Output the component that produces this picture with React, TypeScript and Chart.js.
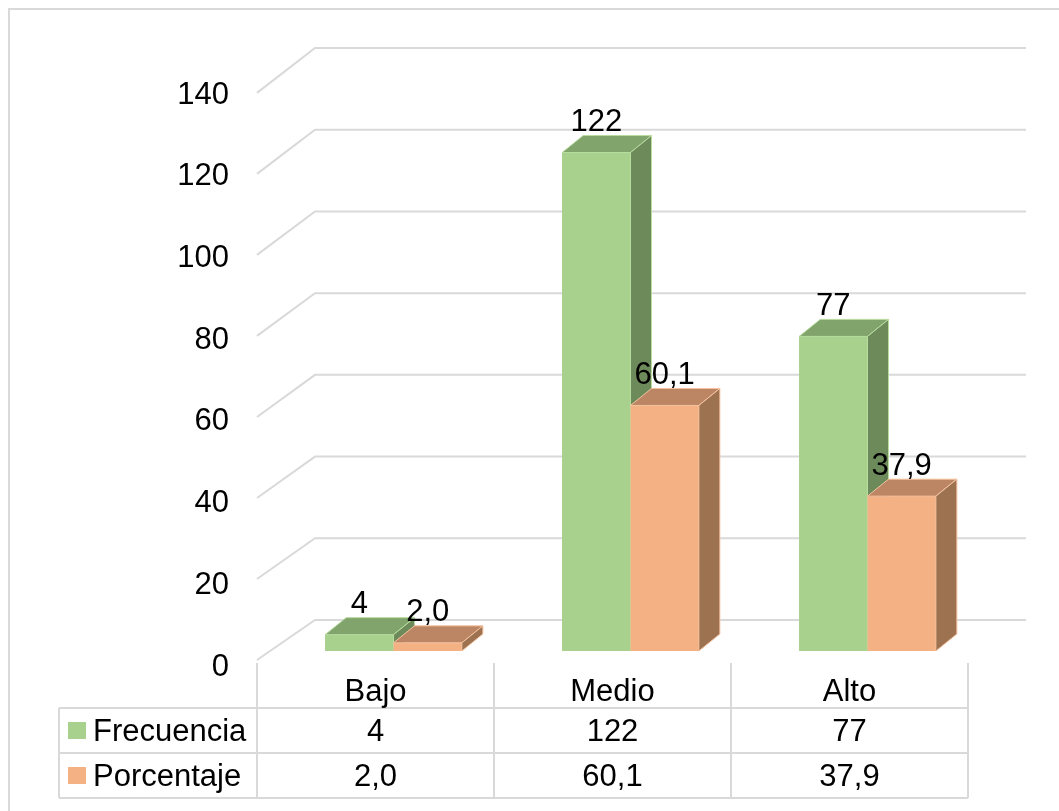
import React, { useEffect, useRef } from "react";
import { Chart, registerables } from "chart.js";

Chart.register(...registerables);

// Data
const categories = ["Bajo", "Medio", "Alto"];
const frecuencia = [4, 122, 77];
const porcentaje = [2.0, 60.1, 37.9];
const seriesNames = ["Frecuencia", "Porcentaje"];
const yMax = 140;
const yStep = 20;

// Styling
const FONT = '"Liberation Sans", Arial, sans-serif';
const FONT_SIZE = 31;
const GRID = "#D9D9D9";
const FACE = {
  green: { front: "#A9D18E", top: "#81A36C", side: "#6D8A5A", edge: "#B9DCA0" },
  orange: { front: "#F4B183", top: "#BC8563", side: "#9C7251", edge: "#F7C3A0" },
};
const palettes = [FACE.green, FACE.orange];

// 3D geometry offsets relative to the bar front plane
const BACK_DX = 40;
const BACK_DY = -31;
const FRONT_DX = -18;
const FRONT_DY = 9;
const FRONT_SCALE = 0.9915;
const BAR_DX = 21;
const BAR_DY = -17;

const fmtFrec = (v: number) => String(v);
const fmtPct = (v: number) => v.toFixed(1).replace(".", ",");
const formatters = [fmtFrec, fmtPct];
const seriesData = [frecuencia, porcentaje];

const threeD = {
  id: "threeD",
  beforeDatasetsDraw(chart: any) {
    const { ctx } = chart;
    const ys = chart.scales.y;
    const area = chart.chartArea;
    const y0 = ys.getPixelForValue(0);
    ctx.save();
    // outer frame
    ctx.strokeStyle = GRID;
    ctx.lineWidth = 2;
    ctx.beginPath();
    ctx.moveTo(9, chart.height + 5);
    ctx.lineTo(9, 9);
    ctx.lineTo(chart.width + 5, 9);
    ctx.stroke();
    // wall gridlines with a diagonal to the front edge
    for (let v = 0; v <= yMax; v += yStep) {
      const yb = ys.getPixelForValue(v);
      const backY = yb + BACK_DY;
      const frontY = y0 + FRONT_DY - (y0 - yb) * FRONT_SCALE;
      ctx.beginPath();
      ctx.moveTo(area.left + FRONT_DX, frontY);
      ctx.lineTo(area.left + BACK_DX, backY);
      ctx.lineTo(area.right + BACK_DX, backY);
      ctx.stroke();
    }
    ctx.restore();
  },
  afterDatasetsDraw(chart: any) {
    const { ctx } = chart;
    ctx.save();
    chart.data.datasets.forEach((ds: any, di: number) => {
      const pal = palettes[di];
      const meta = chart.getDatasetMeta(di);
      meta.data.forEach((el: any) => {
        const { x, y, base, width } = el.getProps(["x", "y", "base", "width"], true);
        const l = x - width / 2;
        const r = x + width / 2;
        // front
        ctx.fillStyle = pal.front;
        ctx.fillRect(l, y, r - l, base - y);
        // top
        ctx.beginPath();
        ctx.moveTo(l, y);
        ctx.lineTo(r, y);
        ctx.lineTo(r + BAR_DX, y + BAR_DY);
        ctx.lineTo(l + BAR_DX, y + BAR_DY);
        ctx.closePath();
        ctx.fillStyle = pal.top;
        ctx.fill();
        ctx.strokeStyle = pal.edge;
        ctx.lineWidth = 1;
        ctx.stroke();
        // side
        ctx.beginPath();
        ctx.moveTo(r, y);
        ctx.lineTo(r + BAR_DX, y + BAR_DY);
        ctx.lineTo(r + BAR_DX, base + BAR_DY);
        ctx.lineTo(r, base);
        ctx.closePath();
        ctx.fillStyle = pal.side;
        ctx.fill();
        ctx.stroke();
      });
    });
    // value labels
    ctx.fillStyle = "#000";
    ctx.font = `${FONT_SIZE}px ${FONT}`;
    ctx.textAlign = "center";
    ctx.textBaseline = "middle";
    chart.data.datasets.forEach((ds: any, di: number) => {
      const meta = chart.getDatasetMeta(di);
      meta.data.forEach((el: any, i: number) => {
        const { x, y } = el.getProps(["x", "y"], true);
        ctx.fillText(formatters[di](ds.data[i]), x, y + BAR_DY - 13);
      });
    });
    ctx.restore();
  },
  afterDraw(chart: any) {
    const { ctx } = chart;
    const xs = chart.scales.x;
    const ys = chart.scales.y;
    const y0 = ys.getPixelForValue(0);
    const catW = xs.width / categories.length;
    const tableLeft = xs.left + FRONT_DX;
    const tableRight = xs.right + FRONT_DX;
    const topY = y0 + FRONT_DY + 3;
    const rowH = 45;
    const r1 = topY + rowH;
    const r2 = r1 + rowH;
    const r3 = r2 + rowH;
    const legendLeft = 59;
    ctx.save();
    ctx.strokeStyle = GRID;
    ctx.lineWidth = 2;
    ctx.beginPath();
    for (let i = 0; i <= categories.length; i++) {
      const cx = tableLeft + i * catW;
      ctx.moveTo(cx, topY);
      ctx.lineTo(cx, r3);
    }
    ctx.moveTo(legendLeft, r1);
    ctx.lineTo(legendLeft, r3);
    [r1, r2, r3].forEach((ry) => {
      ctx.moveTo(legendLeft, ry);
      ctx.lineTo(tableRight, ry);
    });
    ctx.stroke();

    ctx.fillStyle = "#000";
    ctx.font = `${FONT_SIZE}px ${FONT}`;
    ctx.textAlign = "center";
    ctx.textBaseline = "middle";
    categories.forEach((c, i) => {
      const cx = tableLeft + (i + 0.5) * catW;
      ctx.fillText(c, cx, topY + 29);
      ctx.fillText(fmtFrec(frecuencia[i]), cx, r1 + 24);
      ctx.fillText(fmtPct(porcentaje[i]), cx, r2 + 24);
    });
    // legend keys
    ctx.textAlign = "left";
    [r1, r2].forEach((ry, si) => {
      ctx.fillStyle = palettes[si].front;
      ctx.fillRect(68, ry + 14, 18, 17);
      ctx.fillStyle = "#000";
      ctx.fillText(seriesNames[si], 93, ry + 24);
    });
    ctx.restore();
  },
};

export default function App() {
  const ref = useRef<HTMLCanvasElement | null>(null);
  useEffect(() => {
    if (!ref.current) return;
    const chart = new Chart(ref.current, {
      type: "bar",
      data: {
        labels: categories,
        datasets: seriesData.map((d, i) => ({
          label: seriesNames[i],
          data: d,
          backgroundColor: palettes[i].front,
          borderWidth: 0,
          categoryPercentage: 0.577,
          barPercentage: 1.0,
        })),
      },
      options: {
        responsive: false,
        animation: false,
        devicePixelRatio: 1,
        layout: { padding: { left: 0, right: 73, top: 79, bottom: 160 } },
        plugins: { legend: { display: false }, tooltip: { enabled: false } },
        scales: {
          x: { display: false },
          y: {
            min: 0,
            max: yMax,
            border: { display: false },
            grid: { display: false, drawTicks: false },
            ticks: {
              stepSize: yStep,
              padding: 46,
              labelOffset: 16,
              color: "#000",
              font: { family: FONT, size: FONT_SIZE },
            },
            afterFit: (scale: any) => {
              scale.width = 275;
            },
          },
        },
      },
      plugins: [threeD],
    });
    return () => chart.destroy();
  }, []);
  return (
    <div style={{ position: "absolute", left: 0, top: 0, width: 1059, height: 811, background: "#fff" }}>
      <canvas ref={ref} width={1059} height={811} />
    </div>
  );
}
